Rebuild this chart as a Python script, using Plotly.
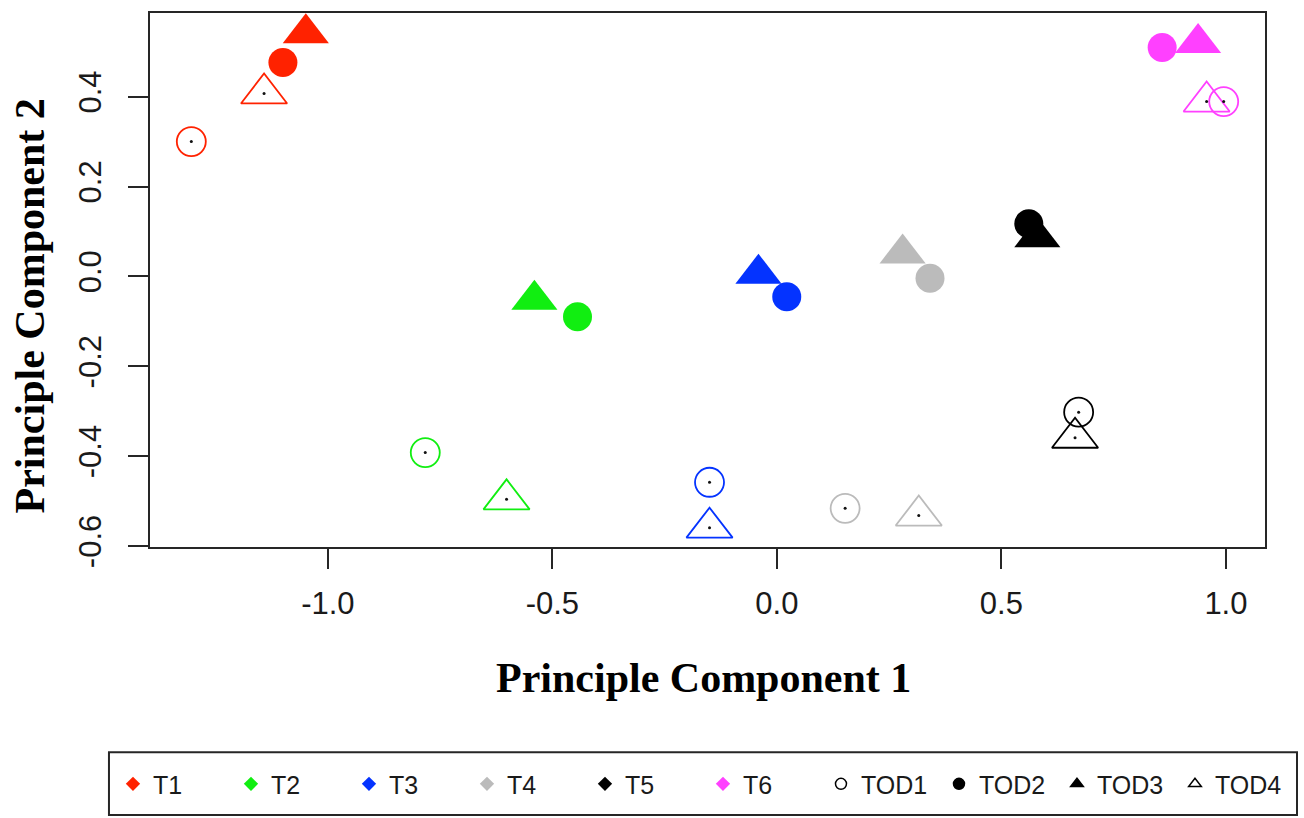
import plotly.graph_objects as go

# Treatment groups and their colours
treatments = ["T1", "T2", "T3", "T4", "T5", "T6"]
treatment_colors = ["#ff2200", "#11ee11", "#0433ff", "#bbbbbb", "#000000", "#ff40ff"]

# Principal component scores per time-of-day, one value per treatment (T1..T6)
pc1_tod1 = [-1.304, -0.783, -0.150, 0.152, 0.672, 0.995]
pc2_tod1 = [0.300, -0.392, -0.458, -0.516, -0.302, 0.389]

pc1_tod2 = [-1.100, -0.444, 0.022, 0.341, 0.561, 0.858]
pc2_tod2 = [0.476, -0.090, -0.045, -0.004, 0.117, 0.509]

pc1_tod3 = [-1.049, -0.540, -0.041, 0.280, 0.580, 0.938]
pc2_tod3 = [0.541, -0.052, 0.006, 0.051, 0.087, 0.519]

pc1_tod4 = [-1.142, -0.602, -0.150, 0.316, 0.664, 0.957]
pc2_tod4 = [0.407, -0.496, -0.559, -0.532, -0.359, 0.389]

tod_labels = ["TOD1", "TOD2", "TOD3", "TOD4"]

x_tickvals = [-1.0, -0.5, 0.0, 0.5, 1.0]
x_ticktext = ["-1.0", "-0.5", "0.0", "0.5", "1.0"]
y_tickvals = [-0.6, -0.4, -0.2, 0.0, 0.2, 0.4]
y_ticktext = ["-0.6", "-0.4", "-0.2", "0.0", "0.2", "0.4"]

CIRCLE_SIZE = 29
TRI_SIZE = 40
AXIS_COLOR = "#262626"
SANS = "Liberation Sans, Arial, sans-serif"
SERIF = "Liberation Serif, Times New Roman, serif"

fig = go.Figure()

# Open markers (TOD1 circles, TOD4 triangles)
fig.add_trace(go.Scatter(
    x=pc1_tod1, y=pc2_tod1, mode="markers", showlegend=False, hoverinfo="skip",
    marker=dict(symbol="circle-open", size=CIRCLE_SIZE, color=treatment_colors,
                line=dict(width=1.8, color=treatment_colors)),
))
fig.add_trace(go.Scatter(
    x=pc1_tod4, y=pc2_tod4, mode="markers", showlegend=False, hoverinfo="skip",
    marker=dict(symbol="triangle-up-open", size=TRI_SIZE, color=treatment_colors,
                line=dict(width=1.8, color=treatment_colors)),
))
# Centre dots of the open markers
fig.add_trace(go.Scatter(
    x=pc1_tod1 + pc1_tod4, y=pc2_tod1 + pc2_tod4, mode="markers",
    showlegend=False, hoverinfo="skip",
    marker=dict(symbol="circle", size=3, color="#111111", line=dict(width=0)),
))
# Filled markers (TOD2 circles, TOD3 triangles)
fig.add_trace(go.Scatter(
    x=pc1_tod2, y=pc2_tod2, mode="markers", showlegend=False, hoverinfo="skip",
    marker=dict(symbol="circle", size=CIRCLE_SIZE, color=treatment_colors,
                line=dict(width=0)),
))
fig.add_trace(go.Scatter(
    x=pc1_tod3, y=pc2_tod3, mode="markers", showlegend=False, hoverinfo="skip",
    marker=dict(symbol="triangle-up", size=TRI_SIZE, color=treatment_colors,
                line=dict(width=0)),
))

# Legend entries: treatments as coloured diamonds, time-of-day as black symbols
for name, col in zip(treatments, treatment_colors):
    fig.add_trace(go.Scatter(
        x=[None], y=[None], mode="markers", name=name,
        marker=dict(symbol="diamond", size=11, color=col, line=dict(width=0)),
    ))
legend_symbols = ["circle-open", "circle", "triangle-up", "triangle-up-open"]
for name, sym in zip(tod_labels, legend_symbols):
    fig.add_trace(go.Scatter(
        x=[None], y=[None], mode="markers", name=name,
        marker=dict(symbol=sym, size=11, color="#000000",
                    line=dict(width=1.5, color="#000000")),
    ))

axis_common = dict(
    showline=True, mirror=True, linecolor=AXIS_COLOR, linewidth=2,
    ticks="outside", ticklen=20, tickwidth=2, tickcolor=AXIS_COLOR,
    showgrid=False, zeroline=False,
    tickfont=dict(family=SANS, size=31, color="#1a1a1a"),
)

fig.update_layout(
    width=1304, height=818,
    margin=dict(l=150, r=39, t=11, b=271),
    paper_bgcolor="white", plot_bgcolor="white",
    xaxis=dict(range=[-1.396, 1.087], tickmode="array",
               tickvals=x_tickvals, ticktext=x_ticktext,
               ticklabelstandoff=8, **axis_common),
    yaxis=dict(range=[-0.602, 0.586], tickmode="array",
               tickvals=y_tickvals, ticktext=y_ticktext,
               tickangle=-90, ticklabelstandoff=15, **axis_common),
    showlegend=True,
    legend=dict(
        orientation="h", x=-0.0332, xanchor="left", y=-0.444, yanchor="middle",
        entrywidth=73, entrywidthmode="pixels", borderwidth=0,
        bgcolor="rgba(0,0,0,0)",
        font=dict(family=SANS, size=25, color="#1a1a1a"),
    ),
    annotations=[
        dict(text="<b>Principle Component 1</b>", xref="paper", yref="paper",
             x=0.496, y=-0.246, xanchor="center", yanchor="middle", showarrow=False,
             font=dict(family=SERIF, size=42, color="#000000")),
        dict(text="<b>Principle Component 2</b>", xref="paper", yref="paper",
             x=-0.108, y=0.4515, xanchor="center", yanchor="middle",
             textangle=-90, showarrow=False,
             font=dict(family=SERIF, size=42, color="#000000")),
    ],
    shapes=[
        dict(type="rect", xref="paper", yref="paper",
             x0=-0.0368, x1=1.0287, y0=-0.5019, y1=-0.3843,
             line=dict(color=AXIS_COLOR, width=2), fillcolor="rgba(0,0,0,0)"),
    ],
)

fig.write_html("out.html")
